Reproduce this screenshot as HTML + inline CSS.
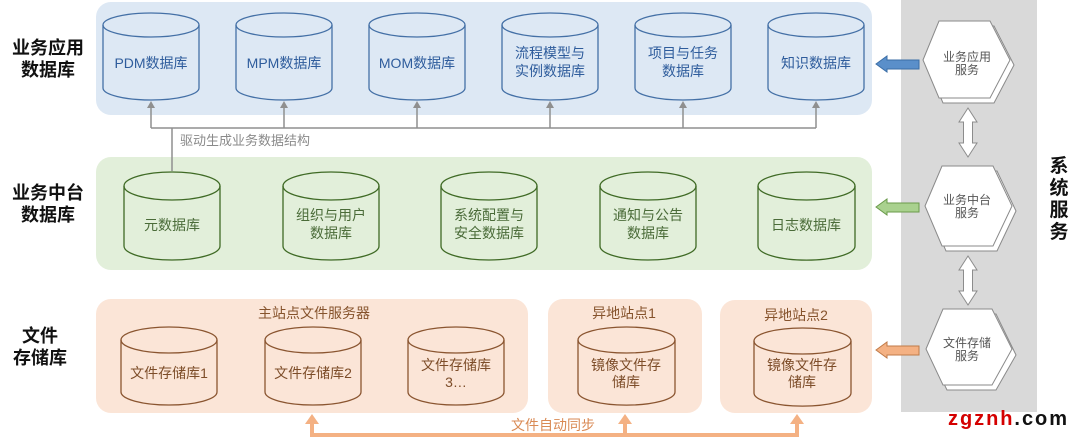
<!DOCTYPE html>
<html><head><meta charset="utf-8">
<style>
html,body{margin:0;padding:0;background:#fff;}
svg{display:block;font-family:"Liberation Sans","Noto Sans CJK SC",sans-serif;}
</style></head>
<body>
<svg width="1080" height="441" viewBox="0 0 1080 441" xmlns="http://www.w3.org/2000/svg">
<!-- gray system panel -->
<rect x="901" y="0" width="136" height="412" fill="#d9d9d9"/>

<!-- panels -->
<rect x="96" y="2" width="776" height="113" rx="15" fill="#dde8f4"/>
<rect x="96" y="157" width="776" height="113" rx="15" fill="#e2efda"/>
<rect x="96" y="299" width="432" height="114" rx="15" fill="#fbe5d7"/>
<rect x="548" y="299" width="154" height="114" rx="15" fill="#fbe5d7"/>
<rect x="720" y="300" width="152" height="113" rx="15" fill="#fbe5d7"/>

<!-- left labels -->
<g font-weight="bold" font-size="18" fill="#111" text-anchor="middle">
<text x="48" y="54">业务应用</text>
<text x="48" y="76">数据库</text>
<text x="48" y="199">业务中台</text>
<text x="48" y="221">数据库</text>
<text x="40" y="342">文件</text>
<text x="40" y="364">存储库</text>
</g>
<g font-weight="bold" font-size="19" fill="#111" text-anchor="middle">
<text x="1059" y="172">系</text>
<text x="1059" y="194">统</text>
<text x="1059" y="216">服</text>
<text x="1059" y="238">务</text>
</g>

<!-- top row cylinders (blue) -->
<g fill="none" stroke="#4470a6" stroke-width="1.3">
<path d="M103,25 L103,88 A48,12 0 0 0 199,88 L199,25"/><ellipse cx="151" cy="25" rx="48" ry="12"/>
<path d="M236,25 L236,88 A48,12 0 0 0 332,88 L332,25"/><ellipse cx="284" cy="25" rx="48" ry="12"/>
<path d="M369,25 L369,88 A48,12 0 0 0 465,88 L465,25"/><ellipse cx="417" cy="25" rx="48" ry="12"/>
<path d="M502,25 L502,88 A48,12 0 0 0 598,88 L598,25"/><ellipse cx="550" cy="25" rx="48" ry="12"/>
<path d="M635,25 L635,88 A48,12 0 0 0 731,88 L731,25"/><ellipse cx="683" cy="25" rx="48" ry="12"/>
<path d="M768,25 L768,88 A48,12 0 0 0 864,88 L864,25"/><ellipse cx="816" cy="25" rx="48" ry="12"/>
</g>
<g font-size="14" fill="#2e5c9c" text-anchor="middle">
<text x="151" y="68">PDM数据库</text>
<text x="284" y="68">MPM数据库</text>
<text x="417" y="68">MOM数据库</text>
<text x="550" y="58">流程模型与</text>
<text x="550" y="76">实例数据库</text>
<text x="683" y="58">项目与任务</text>
<text x="683" y="76">数据库</text>
<text x="816" y="68">知识数据库</text>
</g>

<!-- gray connectors -->
<g stroke="#8f8f8f" stroke-width="1.5" fill="none">
<path d="M151,128 L816,128"/>
<path d="M151,128 V107 M284,128 V107 M417,128 V107 M550,128 V107 M683,128 V107 M816,128 V107"/>
<path d="M172,128 V171"/>
</g>
<g fill="#8f8f8f">
<path d="M151,101 l-4,7 h8z"/><path d="M284,101 l-4,7 h8z"/><path d="M417,101 l-4,7 h8z"/>
<path d="M550,101 l-4,7 h8z"/><path d="M683,101 l-4,7 h8z"/><path d="M816,101 l-4,7 h8z"/>
</g>
<text x="180" y="145" font-size="13" fill="#8a8a8a">驱动生成业务数据结构</text>

<!-- middle row cylinders (green) -->
<g fill="none" stroke="#3f6a25" stroke-width="1.3">
<path d="M124,186 L124,246 A48,14 0 0 0 220,246 L220,186"/><ellipse cx="172" cy="186" rx="48" ry="14"/>
<path d="M283,186 L283,246 A48,14 0 0 0 379,246 L379,186"/><ellipse cx="331" cy="186" rx="48" ry="14"/>
<path d="M441,186 L441,246 A48,14 0 0 0 537,246 L537,186"/><ellipse cx="489" cy="186" rx="48" ry="14"/>
<path d="M600,186 L600,246 A48,14 0 0 0 696,246 L696,186"/><ellipse cx="648" cy="186" rx="48" ry="14"/>
<path d="M758,186 L758,246 A48,14 0 0 0 855,246 L855,186"/><ellipse cx="806.5" cy="186" rx="48.5" ry="14"/>
</g>
<g font-size="14" fill="#4a6b38" text-anchor="middle">
<text x="172" y="230">元数据库</text>
<text x="331" y="220">组织与用户</text>
<text x="331" y="238">数据库</text>
<text x="489" y="220">系统配置与</text>
<text x="489" y="238">安全数据库</text>
<text x="648" y="220">通知与公告</text>
<text x="648" y="238">数据库</text>
<text x="806" y="230">日志数据库</text>
</g>

<!-- bottom row (orange) -->
<g font-size="14" fill="#86532c" text-anchor="middle">
<text x="314" y="318">主站点文件服务器</text>
<text x="624" y="318">异地站点1</text>
<text x="796" y="320">异地站点2</text>
</g>
<g fill="none" stroke="#8a5530" stroke-width="1.3">
<path d="M121,340 L121,392 A48,13 0 0 0 217,392 L217,340"/><ellipse cx="169" cy="340" rx="48" ry="13"/>
<path d="M265,340 L265,392 A48,13 0 0 0 361,392 L361,340"/><ellipse cx="313" cy="340" rx="48" ry="13"/>
<path d="M408,340 L408,392 A48,13 0 0 0 504,392 L504,340"/><ellipse cx="456" cy="340" rx="48" ry="13"/>
<path d="M578,340 L578,392 A48,13 0 0 0 675,392 L675,340"/><ellipse cx="626.5" cy="340" rx="48.5" ry="13"/>
<path d="M754,341 L754,393 A48,13 0 0 0 851,393 L851,341"/><ellipse cx="802.5" cy="341" rx="48.5" ry="13"/>
</g>
<g font-size="14" fill="#7d4d29" text-anchor="middle">
<text x="169" y="378">文件存储库1</text>
<text x="313" y="378">文件存储库2</text>
<text x="456" y="370">文件存储库</text>
<text x="456" y="387">3…</text>
<text x="626" y="370">镜像文件存</text>
<text x="626" y="387">储库</text>
<text x="802" y="370">镜像文件存</text>
<text x="802" y="387">储库</text>
</g>

<!-- sync arrows -->
<g fill="#f4b183">
<rect x="310" y="433" width="489" height="4"/>
<rect x="310" y="423" width="4" height="14"/>
<rect x="623" y="423" width="4" height="14"/>
<rect x="795" y="423" width="4" height="14"/>
<path d="M312,414 l-7,10 h14z"/>
<path d="M625,414 l-7,10 h14z"/>
<path d="M797,414 l-7,10 h14z"/>
</g>
<text x="553" y="430" font-size="14" fill="#d98a54" text-anchor="middle">文件自动同步</text>

<!-- left-pointing block arrows -->
<path d="M876,64 L887,56 L887,60 L919,60 L919,69 L887,69 L887,72 Z" fill="#5a8fca" stroke="#3b6ea6" stroke-width="1"/>
<path d="M876,207 L887,199 L887,203 L919,203 L919,212 L887,212 L887,215 Z" fill="#a9d18e" stroke="#6a9a4a" stroke-width="1"/>
<path d="M876,350 L887,342 L887,346 L919,346 L919,355 L887,355 L887,358 Z" fill="#f4b183" stroke="#c07a48" stroke-width="1"/>

<!-- double arrows -->
<g fill="#ffffff" stroke="#8c8c8c" stroke-width="1">
<path d="M968,108 L977,122 L972.5,122 L972.5,143 L977,143 L968,157 L959,143 L963.5,143 L963.5,122 L959,122 Z"/>
<path d="M968,256 L977,270 L972.5,270 L972.5,291 L977,291 L968,305 L959,291 L963.5,291 L963.5,270 L959,270 Z"/>
</g>

<!-- hexagons -->
<g fill="#ffffff" stroke="#8a8a8a" stroke-width="1">
<polygon points="927,65 943,26 994,26 1014,65 994,103 943,103"/>
<polygon points="923,60 939,21 990,21 1010,60 990,98 939,98"/>
<polygon points="929,211 946,171 997,171 1016,211 997,251 946,251"/>
<polygon points="925,206 942,166 993,166 1012,206 993,246 942,246"/>
<polygon points="930,355 947,314 996,314 1016,355 996,390 947,390"/>
<polygon points="926,349 943,309 992,309 1012,349 992,385 943,385"/>
</g>
<g font-size="12" fill="#555" text-anchor="middle">
<text x="967" y="61">业务应用</text>
<text x="967" y="74">服务</text>
<text x="967" y="204">业务中台</text>
<text x="967" y="217">服务</text>
<text x="967" y="347">文件存储</text>
<text x="967" y="360">服务</text>
</g>

<!-- watermark -->
<text x="948" y="425" font-size="20" font-weight="bold" textLength="119" lengthAdjust="spacing"><tspan fill="#d40000">zgznh</tspan><tspan fill="#111">.com</tspan></text>
</svg>
</body></html>
